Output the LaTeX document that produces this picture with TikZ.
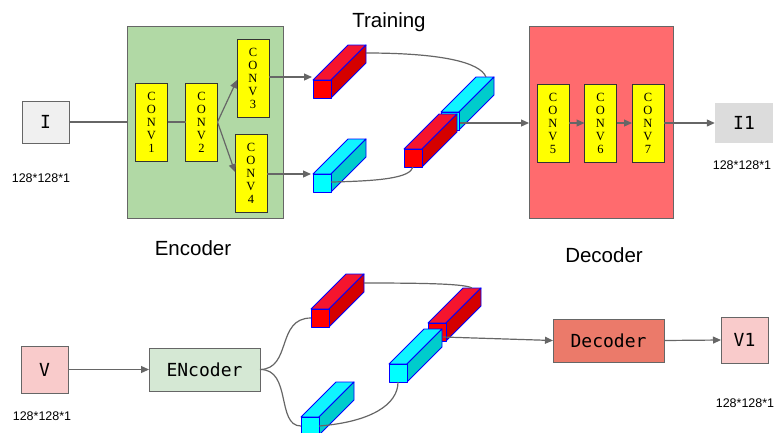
\documentclass[tikz,border=0pt]{standalone}
\usepackage{fontspec}
\setmainfont{Liberation Sans}
\newfontfamily\serifc{Liberation Serif}
\newfontfamily\monof{DejaVu Sans Mono}
\usetikzlibrary{arrows.meta}
\definecolor{lineg}{HTML}{666666}
\definecolor{encg}{HTML}{B1D9A5}
\definecolor{decr}{HTML}{FF6B6E}
\definecolor{encl}{HTML}{D5E8D4}
\definecolor{decl}{HTML}{EB7A6A}
\definecolor{pinkb}{HTML}{F9CBCB}
\definecolor{greyb}{HTML}{F0F0F0}
\definecolor{greyc}{HTML}{DCDCDC}
\definecolor{redfront}{HTML}{FF0000}
\definecolor{redtop}{HTML}{F5152E}
\definecolor{redside}{HTML}{D50000}
\definecolor{cyanfront}{HTML}{00FFFF}
\definecolor{cyantop}{HTML}{10F4FF}
\definecolor{cyanside}{HTML}{00CCCC}
\definecolor{cubeblue}{HTML}{0000FF}
\definecolor{convyel}{HTML}{FFFF00}
\newcommand\cubeat[5]{%
  \filldraw[fill=#4,draw=cubeblue,line width=0.9pt,line join=round] (#1,#2) -- ++(35,-35) -- ++(18,0) -- ++(-35,35) -- cycle;
  \filldraw[fill=#5,draw=cubeblue,line width=0.9pt,line join=round] (#1+18,#2) -- ++(35,-35) -- ++(0,18) -- ++(-35,35) -- cycle;
  \filldraw[fill=#3,draw=cubeblue,line width=0.9pt,line join=round] (#1,#2) rectangle ++(18,18);
}
\begin{document}
\begin{tikzpicture}[x=1pt,y=-1pt,
  conn/.style={draw=lineg, line width=1.2pt},
  arr/.style={conn, -{Triangle[length=8pt,width=7pt]}},
  box/.style={draw=lineg, line width=1pt, inner sep=0pt, outer sep=0pt},
  conv/.style={draw=black!80, fill=convyel, line width=1pt, inner sep=0pt, outer sep=0pt,
    font=\serifc\fontsize{12.5}{13}\selectfont, align=center, minimum width=32, minimum height=78},
  title/.style={font=\fontsize{20.5}{24}\selectfont},
  dims/.style={font=\fontsize{12.5}{14}\selectfont},
  mono/.style={font=\monof\fontsize{18}{20}\selectfont}]
\useasboundingbox (0,0) rectangle (776,432);

% ---------- Training ----------
\node[title] (train) at (389,22) {Training};
\node[box, fill=encg, minimum width=156, minimum height=192] (enc) at (205,122) {};
\node[box, fill=decr, minimum width=144, minimum height=192] (dec) at (601,122) {};
\node[title] (enclab) at (193,248) {Encoder};
\node[title] (declab) at (604,255) {Decoder};

\node[box, fill=greyb, minimum width=47, minimum height=42, mono] (I) at (45.5,122) {I};
\node[dims] (dI) at (41,178) {128*128*1};
\node[fill=greyc, inner sep=0pt, minimum width=58, minimum height=40, mono] (I1) at (744,123) {I1};
\node[dims] (dI1) at (742,165) {128*128*1};

\node[conv] (c1) at (151.5,122) {C\\O\\N\\V\\1};
\node[conv] (c2) at (201.5,122) {C\\O\\N\\V\\2};
\node[conv] (c3) at (253,78) {C\\O\\N\\V\\3};
\node[conv] (c4) at (251,173.5) {C\\O\\N\\V\\4};
\node[conv] (c5) at (553,123) {C\\O\\N\\V\\5};
\node[conv] (c6) at (600.5,123) {C\\O\\N\\V\\6};
\node[conv] (c7) at (648,123) {C\\O\\N\\V\\7};

\draw[conn] (I.east) -- (enc.west);
\draw[conn] (c1.east) -- (c2.east -| c2.west);
\coordinate (c3in) at (237,80);
\coordinate (c4in) at (235,172);
\draw[arr] (c2.east) -- (c3in);
\draw[arr] (c2.east) -- (c4in);

% cubes (top)
\cubeat{313}{80}{redfront}{redtop}{redside}
\cubeat{313}{174}{cyanfront}{cyantop}{cyanside}
\cubeat{441}{112}{cyanfront}{cyantop}{cyanside}
\cubeat{404}{149}{redfront}{redtop}{redside}

\coordinate (r1in) at (312,77);
\coordinate (k1in) at (311,174);
\draw[arr] (c3.east |- r1in) -- (r1in);
\draw[arr] (c4.east |- k1in) -- (k1in);
\coordinate (r1out) at (366,53);
\coordinate (k2top) at (486,77);
\draw[conn] (r1out) .. controls (440,53) and (480,62) .. (k2top);
\coordinate (k1out) at (331,182);
\coordinate (r2bot) at (413,167);
\draw[conn] (k1out) .. controls (380,181) and (410,178) .. (r2bot);
\coordinate (pairout) at (460,123);
\draw[arr] (pairout) -- (dec.west |- pairout);

\draw[arr] (c5.east) -- (c6.west);
\draw[arr] (c6.east) -- (c7.west);
\draw[arr] (c7.east) -- (I1.west);

% ---------- Inference ----------
\node[box, fill=pinkb, minimum width=47, minimum height=47, mono] (V) at (44.5,369.5) {V};
\node[dims] (dV) at (42,416) {128*128*1};
\node[box, fill=encl, minimum width=111, minimum height=43, mono] (enc2) at (204.5,369.5) {ENcoder};
\node[box, fill=decl, minimum width=111, minimum height=43, mono] (dec2) at (608.5,340.5) {Decoder};
\node[box, fill=pinkb, minimum width=47, minimum height=46, mono] (V1) at (744.5,340) {V1};
\node[dims] (dV1) at (745,403) {128*128*1};

\draw[arr] (V.east) -- (enc2.west);

\cubeat{311}{309}{redfront}{redtop}{redside}
\cubeat{301}{417}{cyanfront}{cyantop}{cyanside}
\cubeat{428}{323}{redfront}{redtop}{redside}
\cubeat{389}{364}{cyanfront}{cyantop}{cyanside}

\coordinate (r3in) at (311,318);
\coordinate (k3in) at (301,426);
\draw[conn] (enc2.east) .. controls (292,369) and (276,318) .. (r3in);
\draw[conn] (enc2.east) .. controls (292,369) and (276,426) .. (k3in);
\coordinate (r3out) at (364,283);
\coordinate (r4top) at (472,288);
\draw[conn] (r3out) .. controls (430,283) and (465,284) .. (r4top);
\coordinate (k3out) at (319,426);
\coordinate (k4bot) at (398,382);
\draw[conn] (k3out) .. controls (370,422) and (398,405) .. (k4bot);
\coordinate (pair2out) at (443,337);
\draw[arr] (pair2out) -- (dec2.west);
\draw[arr] (dec2.east) -- (V1.west);
\end{tikzpicture}
\end{document}
